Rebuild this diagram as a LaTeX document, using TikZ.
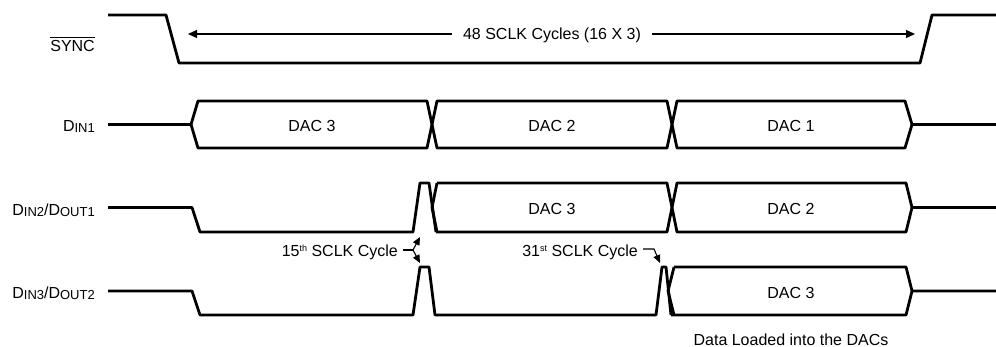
\documentclass[tikz,border=0pt]{standalone}
\usepackage{fontspec}
\setmainfont{Liberation Sans}
\usetikzlibrary{arrows.meta}
\newcommand\lsub[1]{\raisebox{-1pt}{\fontsize{13}{13}\selectfont #1}}
\newcommand\lsup[1]{\raisebox{5.5pt}{\fontsize{9}{9}\selectfont #1}}
\begin{document}
\begin{tikzpicture}[x=1pt,y=-1pt,
  sig/.style={line width=2.8pt, line join=round},
  thinln/.style={line width=1.1pt},
  lbl/.style={font=\fontsize{16}{19}\selectfont, inner sep=0pt},
  busl/.style={lbl, anchor=base},
  bigtip/.style={-{Triangle[length=9pt,width=8pt]}},
  smalltip/.style={-{Triangle[length=8pt,width=7pt]}}]
\useasboundingbox (0,0) rectangle (996,347);

% ---- signal labels
\node[lbl, anchor=base east] (lsync) at (95,52) {SYNC};
\draw[line width=0.8pt] ([yshift=3.5pt]lsync.north west) -- ([yshift=3.5pt]lsync.north east);
\node[lbl, anchor=base east] (ldin1) at (95,132) {D\lsub{IN1}};
\node[lbl, anchor=base east] (ldin2) at (95,216) {D\lsub{IN2}/D\lsub{OUT1}};
\node[lbl, anchor=base east] (ldin3) at (95,299) {D\lsub{IN3}/D\lsub{OUT2}};

% ---- SYNC waveform
\draw[sig] (108,15) -- (166,15) -- (179,63) -- (920,63) -- (932,15) -- (996,15);

% ---- 48 SCLK arrow
\node[lbl, anchor=base, inner xsep=11pt] (cyc) at (552,40) {48 SCLK Cycles (16 X 3)};
\coordinate (cycL) at (188,34);
\coordinate (cycR) at (915,34);
\draw[thinln, bigtip] (cyc.west |- cycL) -- (cycL);
\draw[thinln, bigtip] (cyc.east |- cycR) -- (cycR);

% ---- DIN1
\draw[sig] (108,124.5) -- (191,124.5) -- (198,101) -- (427,101) -- (437,148) -- (667,148) -- (677,101) -- (905,101) -- (912,124.5) -- (996,124.5);
\draw[sig] (191,124.5) -- (198,148) -- (427,148) -- (437,101) -- (667,101) -- (677,148) -- (905,148) -- (912,124.5);
\node[busl] (d1a) at (312,132) {DAC 3};
\node[busl] (d1b) at (552,132) {DAC 2};
\node[busl] (d1c) at (791,132) {DAC 1};

% ---- DIN2/DOUT1
\draw[sig] (108,207.5) -- (192,207.5) -- (200,232) -- (413,232) -- (420,183) -- (429,183) -- (436,232);
\draw[sig] (437,183) -- (432,207.5) -- (437,232);
\draw[sig] (437,183) -- (667,183) -- (677,232) -- (906,232) -- (912,207.5) -- (996,207.5);
\draw[sig] (436,232) -- (667,232) -- (677,183) -- (906,183) -- (912,207.5);
\node[busl] (d2a) at (552,215) {DAC 3};
\node[busl] (d2b) at (791,215) {DAC 2};

% ---- DIN3/DOUT2
\draw[sig] (108,291) -- (192,291) -- (200,315) -- (413,315) -- (420,267) -- (429,267) -- (435,315) -- (656,315) -- (662,267) -- (666,267) -- (671,315);
\draw[sig] (674,267) -- (668,291) -- (674,315);
\draw[sig] (674,267) -- (906,267) -- (912,291) -- (996,291);
\draw[sig] (671,315) -- (906,315) -- (912,291);
\node[busl] (d3a) at (791,299) {DAC 3};

% ---- annotations
\node[lbl, anchor=base east] (c15) at (398,257) {15\lsup{th} SCLK Cycle};
\coordinate (f15) at (413,250);
\coordinate (u15) at (420,237);
\coordinate (w15) at (420,263);
\draw[thinln] (c15.east |- f15) ++(5,0) -- (f15);
\draw[thinln, smalltip] (f15) -- (u15);
\draw[thinln, smalltip] (f15) -- (w15);

\node[lbl, anchor=base east] (c31) at (638,257) {31\lsup{st} SCLK Cycle};
\coordinate (k31) at (654,249);
\coordinate (t31) at (660,263);
\draw[thinln, smalltip] (c31.east |- k31) ++(5,0) -- (k31) -- (t31);

\node[lbl, anchor=base] (load) at (791,345) {Data Loaded into the DACs};
\end{tikzpicture}
\end{document}
